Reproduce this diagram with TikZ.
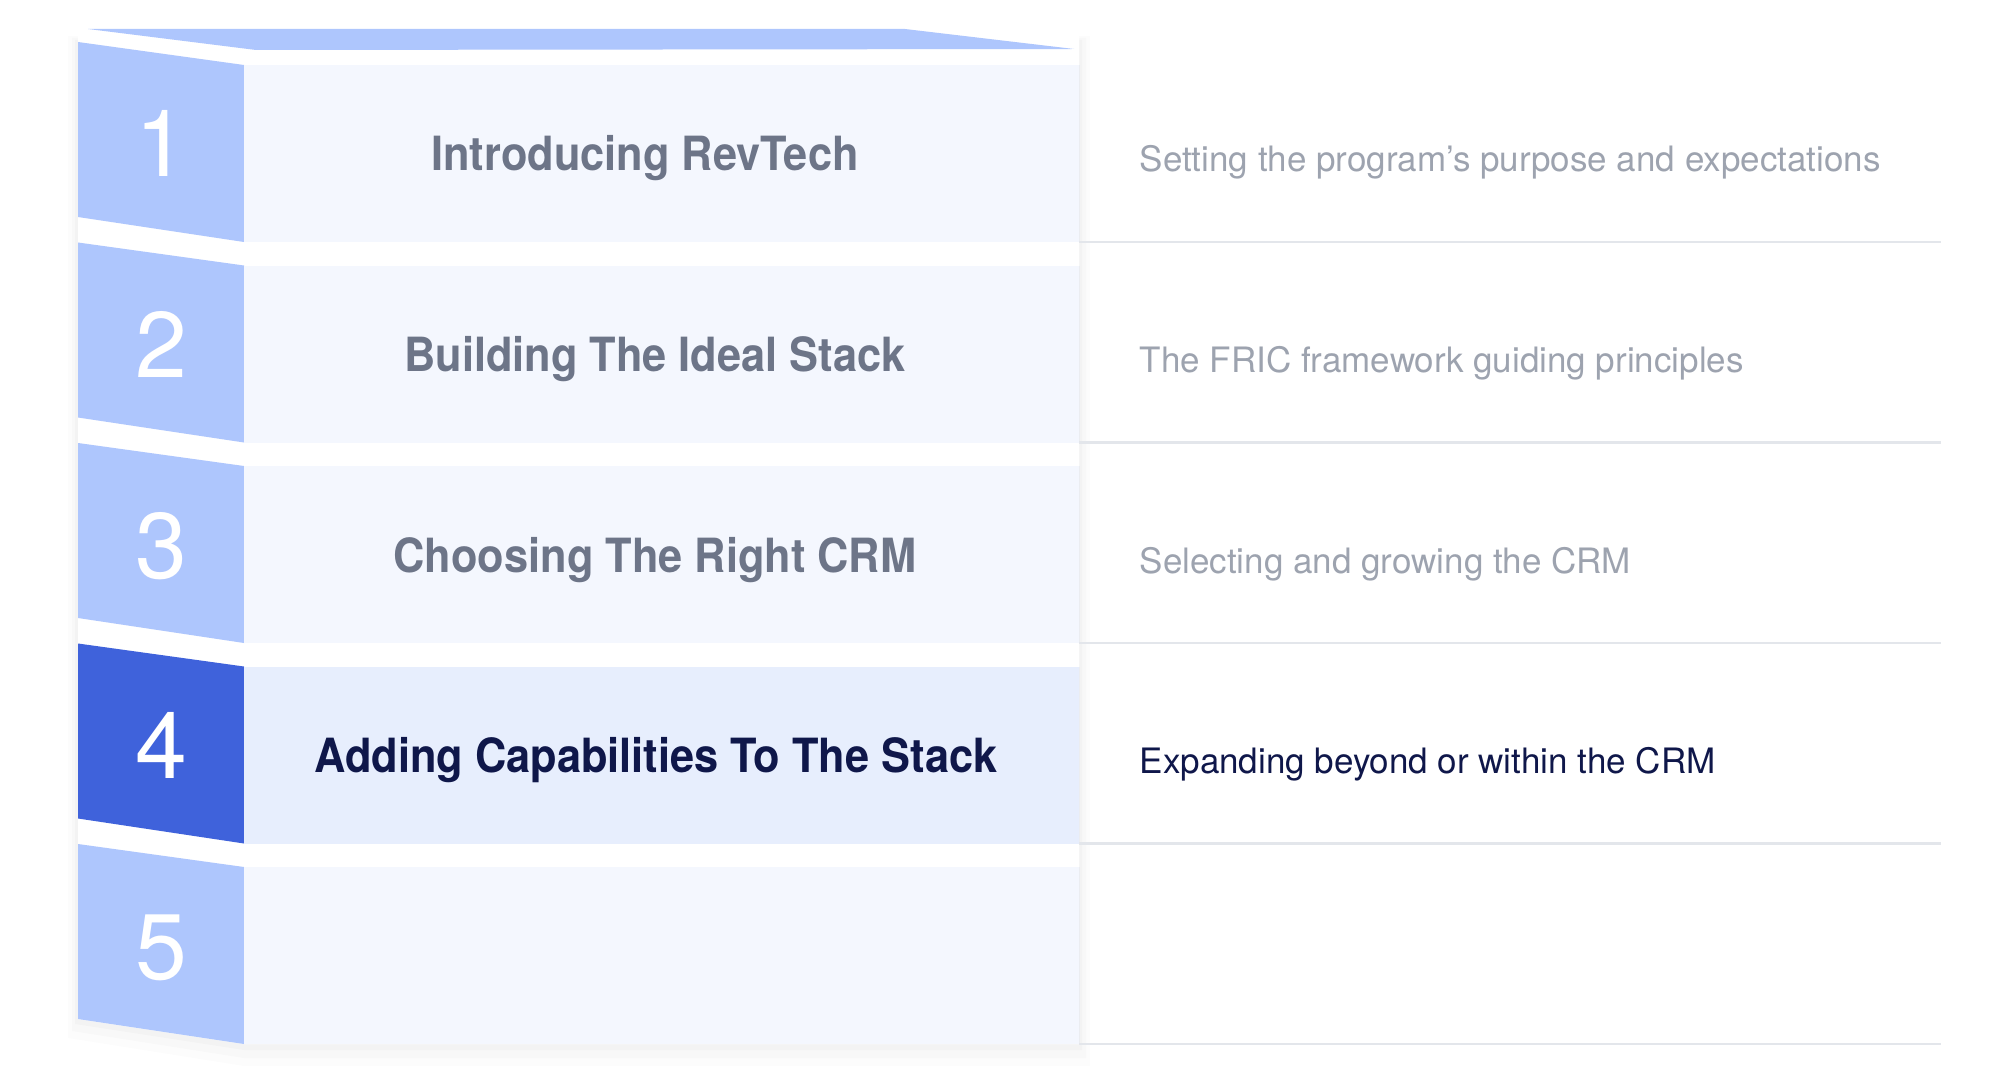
\documentclass[tikz,border=0pt]{standalone}
\usepackage{fontspec}
\setmainfont{TeX Gyre Heros}
\newfontfamily\titlefont{TeX Gyre Heros}[FakeStretch=0.92]
\usepackage{xcolor}
\usepackage{tikz}

\definecolor{tabblue}{HTML}{AEC6FD}
\definecolor{tabdark}{HTML}{3F62DB}
\definecolor{panelfill}{HTML}{F4F7FE}
\definecolor{panelhi}{HTML}{E7EEFD}
\definecolor{titlegray}{HTML}{6D7588}
\definecolor{descgray}{HTML}{9DA3AF}
\definecolor{navy}{HTML}{0F174A}
\definecolor{rulegray}{HTML}{E3E6EB}

\begin{document}
\begin{tikzpicture}[x=0.01cm, y=-0.01cm,
    numtab/.style={fill=tabblue},
    steppanel/.style={fill=panelfill},
    stepnum/.style={white, anchor=base, inner sep=0pt, font=\fontsize{26.5}{28}\selectfont},
    steptitle/.style={titlegray, anchor=base, inner sep=0pt, font=\titlefont\bfseries\fontsize{13.4}{15}\selectfont},
    stepdesc/.style={descgray, anchor=base west, inner sep=0pt, font=\fontsize{9.95}{11}\selectfont},
    rowline/.style={rulegray, line width=0.6pt}]
    \useasboundingbox (0,0) rectangle (2000,1073);

    % soft shadow round the stack
    \fill [black, opacity=0.012] (68,36) -- (1090,36) -- (1090,1066) -- (244,1066) -- (68,1038) -- cycle;
    \fill [black, opacity=0.015] (72,38) -- (1086,38) -- (1086,1058) -- (244,1058) -- (72,1031) -- cycle;
    \fill [black, opacity=0.02]  (75,40) -- (1082,40) -- (1082,1050) -- (244,1050) -- (75,1024) -- cycle;
    \fill [white] (78,29) -- (1079,29) -- (1079,1044) -- (244,1044) -- (78,1019) -- cycle;

    % lid
    \fill [tabblue] (88,29) -- (905,29) -- (1074,49) -- (256,50) -- cycle;

    % row 1
    \fill [numtab] (78,42) -- (244,65) -- (244,242) -- (78,217) -- cycle;
    \fill [steppanel] (244,65) rectangle (1079,242);
    \draw [rulegray!70] (1079.5,65) -- (1079.5,242);
    \draw [rowline] (1079,242) -- (1941,242);
    % row 2
    \fill [numtab] (78,242.5) -- (244,265.5) -- (244,442.5) -- (78,417.5) -- cycle;
    \fill [steppanel] (244,265.5) rectangle (1079,442.5);
    \draw [rulegray!70] (1079.5,265.5) -- (1079.5,442.5);
    \draw [rowline] (1079,442.5) -- (1941,442.5);
    % row 3
    \fill [numtab] (78,443) -- (244,466) -- (244,643) -- (78,618) -- cycle;
    \fill [steppanel] (244,466) rectangle (1079,643);
    \draw [rulegray!70] (1079.5,466) -- (1079.5,643);
    \draw [rowline] (1079,643) -- (1941,643);
    % row 4 (active)
    \fill [tabdark] (78,643.5) -- (244,666.5) -- (244,843.5) -- (78,818.5) -- cycle;
    \fill [panelhi] (244,666.5) rectangle (1079,843.5);
    \draw [rulegray!70] (1079.5,666.5) -- (1079.5,843.5);
    \draw [rowline] (1079,843.5) -- (1941,843.5);
    % row 5
    \fill [numtab] (78,844) -- (244,867) -- (244,1044) -- (78,1019) -- cycle;
    \fill [steppanel] (244,867) rectangle (1079,1044);
    \draw [rulegray!70] (1079.5,867) -- (1079.5,1044);
    \draw [rowline] (1079,1044) -- (1941,1044);

    % numbers
    \node [stepnum] (n1) at (161,177) {1};
    \node [stepnum] (n2) at (161,377.5) {2};
    \node [stepnum] (n3) at (161,578) {3};
    \node [stepnum] (n4) at (161,778.5) {4};
    \node [stepnum] (n5) at (161,979) {5};

    % titles
    \node [steptitle] (t1) at (645,171) {Introducing RevTech};
    \node [steptitle] (t2) at (655,371.5) {Building The Ideal Stack};
    \node [steptitle] (t3) at (655,572) {Choosing The Right CRM};
    \node [steptitle, navy] (t4) at (656,772.5) {Adding Capabilities To The Stack};

    % descriptions
    \node [stepdesc] (d1) at (1139,172) {Setting the program’s purpose and expectations};
    \node [stepdesc] (d2) at (1139,372.5) {The FRIC framework guiding principles};
    \node [stepdesc] (d3) at (1139,573) {Selecting and growing the CRM};
    \node [stepdesc, navy] (d4) at (1139,773.5) {Expanding beyond or within the CRM};
\end{tikzpicture}
\end{document}
